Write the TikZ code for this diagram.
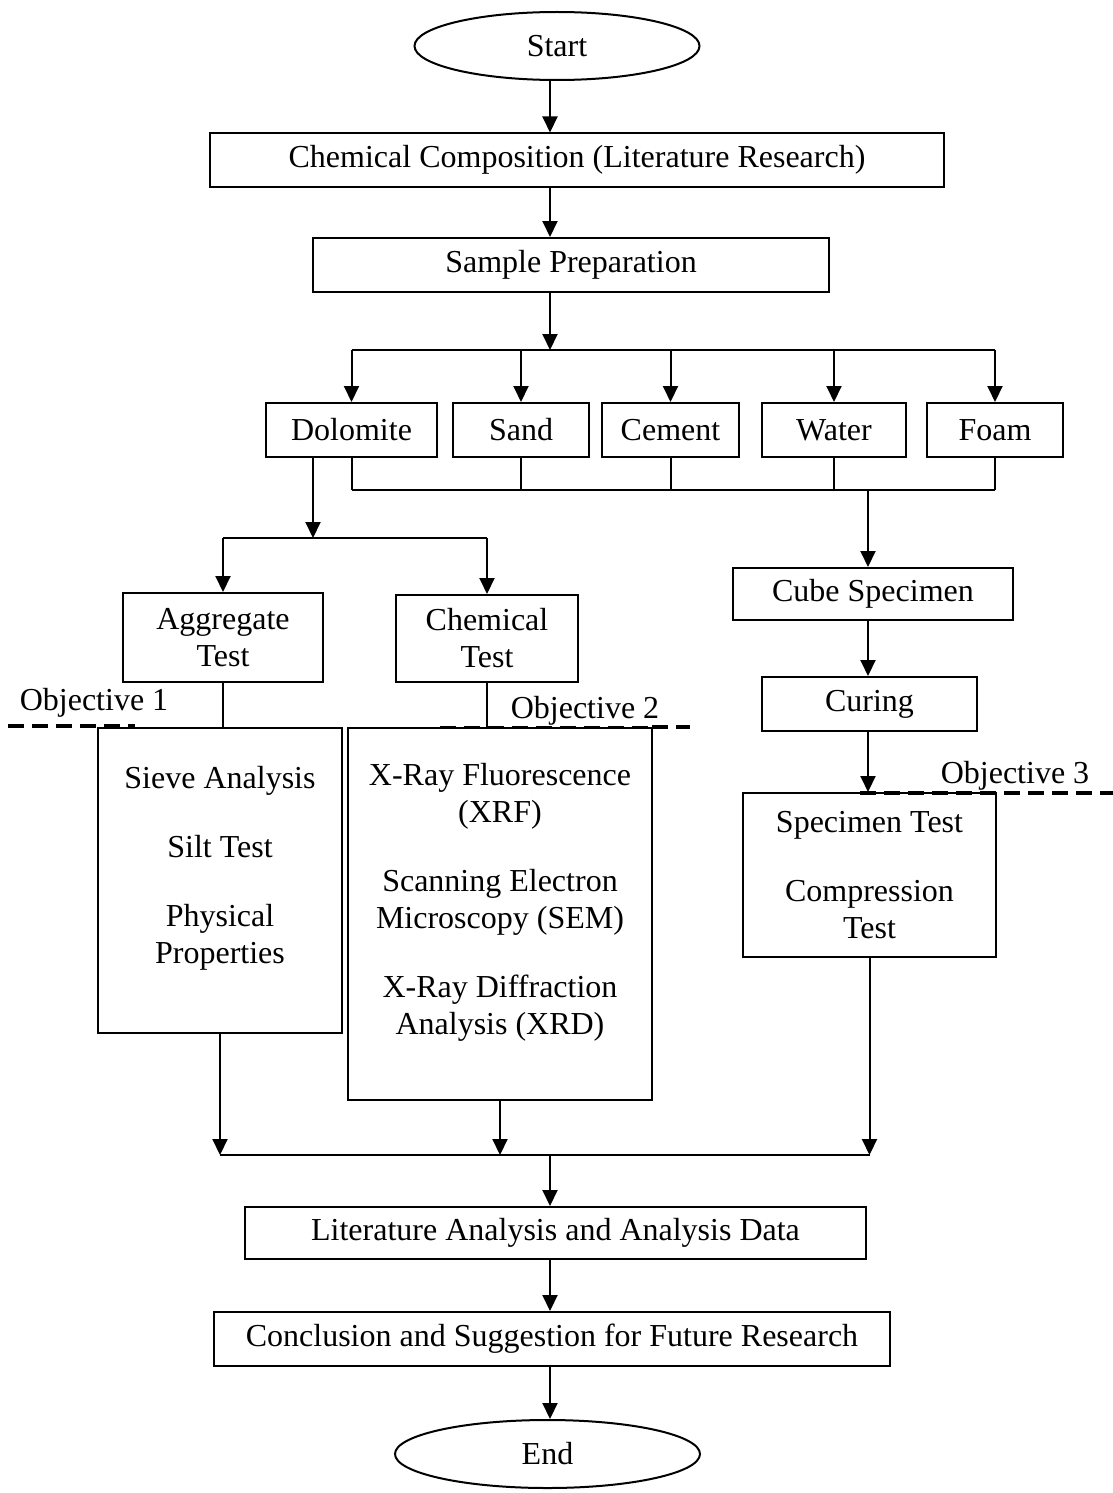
\documentclass[tikz,border=0pt]{standalone}
\usepackage{fontspec}
\setmainfont{Liberation Serif}
\usetikzlibrary{shapes.geometric,arrows.meta}

\begin{document}
\begin{tikzpicture}[x=1pt,y=-1pt,line width=2pt,
  font=\fontsize{32}{37}\selectfont,
  box/.style={draw, rectangle, inner sep=0pt, align=center},
  oval/.style={draw, ellipse, inner sep=0pt},
  arr/.style={-{Triangle[length=16pt,width=15pt]}},
  obj/.style={line width=4pt, dash pattern=on 16pt off 8pt}]
\useasboundingbox (0,0) rectangle (1113,1493);
\coordinate (spine) at (550,0);
\node[oval, minimum width=285pt, minimum height=68pt] (start) at (557,46) {Start};
\node[box, minimum width=734pt, minimum height=53pt] (chem) at (577,160) {Chemical Composition (Literature Research)};
\node[box, minimum width=516pt, minimum height=54pt] (prep) at (571,265) {Sample Preparation};
\node[box, minimum width=171pt, minimum height=54pt] (dolo) at (351.5,430) {Dolomite};
\node[box, minimum width=136pt, minimum height=54pt] (sand) at (521,430) {Sand};
\node[box, minimum width=137pt, minimum height=54pt] (cement) at (670.5,430) {Cement};
\node[box, minimum width=144pt, minimum height=54pt] (water) at (834,430) {Water};
\node[box, minimum width=136pt, minimum height=54pt] (foam) at (995,430) {Foam};
\node[box, minimum width=200pt, minimum height=89pt] (agg) at (223,637.5) {Aggregate\\Test};
\node[box, minimum width=182pt, minimum height=87pt] (chemt) at (487,638.5) {Chemical\\Test};
\node[box, minimum width=280pt, minimum height=52pt] (cube) at (873,594) {Cube Specimen};
\node[box, minimum width=215pt, minimum height=54pt] (curing) at (869.5,704) {Curing};
\node[box, minimum width=244pt, minimum height=305pt] (sieve) at (220,880.5) {};
\node[align=center] (sievetxt) at ([yshift=12pt]sieve.center) {Sieve Analysis\\[32pt]Silt Test\\[32pt]Physical\\Properties};
\node[box, minimum width=304pt, minimum height=372pt] (xrf) at (500,914) {};
\node[align=center] (xrftxt) at ([yshift=12pt]xrf.center) {X-Ray Fluorescence\\(XRF)\\[32pt]Scanning Electron\\Microscopy (SEM)\\[32pt]X-Ray Diffraction\\Analysis (XRD)};
\node[box, minimum width=253pt, minimum height=164pt] (spec) at (869.5,875) {Specimen Test\\[32pt]Compression\\Test};
\node[box, minimum width=621pt, minimum height=52pt] (lit) at (555.5,1233) {Literature Analysis and Analysis Data};
\node[box, minimum width=676pt, minimum height=54pt] (concl) at (552,1339) {Conclusion and Suggestion for Future Research};
\node[oval, minimum width=305pt, minimum height=68pt] (end) at (547.5,1454) {End};
\node (obj1) at (94,703) {Objective 1};
\node (obj2) at (585,711) {Objective 2};
\node (obj3) at (1015,776) {Objective 3};
\draw[obj] (8,726) -- (135,726);
\draw[obj, line width=2pt] (440,727) -- (652,727);
\draw[obj] (652,727) -- (690,727);
\draw[obj] (860,793) -- (1113,793);

\draw[arr] (spine |- start.south) -- (spine |- chem.north);
\draw[arr] (spine |- chem.south) -- (spine |- prep.north);
\coordinate (split) at (550,350);
\draw[arr] (spine |- prep.south) -- (split);
\draw (split -| dolo) -- (split -| foam);
\foreach \m in {dolo,sand,cement,water,foam}
  \draw[arr] (split -| \m) -- (\m.north);
\coordinate (join) at (868,490);
\draw (join -| dolo) -- (join -| foam);
\foreach \m in {dolo,sand,cement,water,foam}
  \draw (\m.south) -- (join -| \m);
\draw[arr] (join) -- (join |- cube.north);
\draw[arr] (join |- cube.south) -- (join |- curing.north);
\draw[arr] (join |- curing.south) -- (join |- spec.north);
\coordinate (dsplit) at (313,538);
\draw[arr] (dsplit |- dolo.south) -- (dsplit);
\draw (dsplit -| agg) -- (dsplit -| chemt);
\draw[arr] (dsplit -| agg) -- (agg.north);
\draw[arr] (dsplit -| chemt) -- (chemt.north);
\draw (agg.south) -- (agg.south |- sieve.north);
\draw (chemt.south) -- (chemt.south |- xrf.north);
\coordinate (merge) at (550,1155);
\draw (merge -| sieve) -- (merge -| spec);
\foreach \m in {sieve,xrf,spec}
  \draw[arr] (\m.south) -- (merge -| \m);
\draw[arr] (merge) -- (spine |- lit.north);
\draw[arr] (spine |- lit.south) -- (spine |- concl.north);
\draw[arr] (spine |- concl.south) -- (spine |- end.north);
\end{tikzpicture}
\end{document}
